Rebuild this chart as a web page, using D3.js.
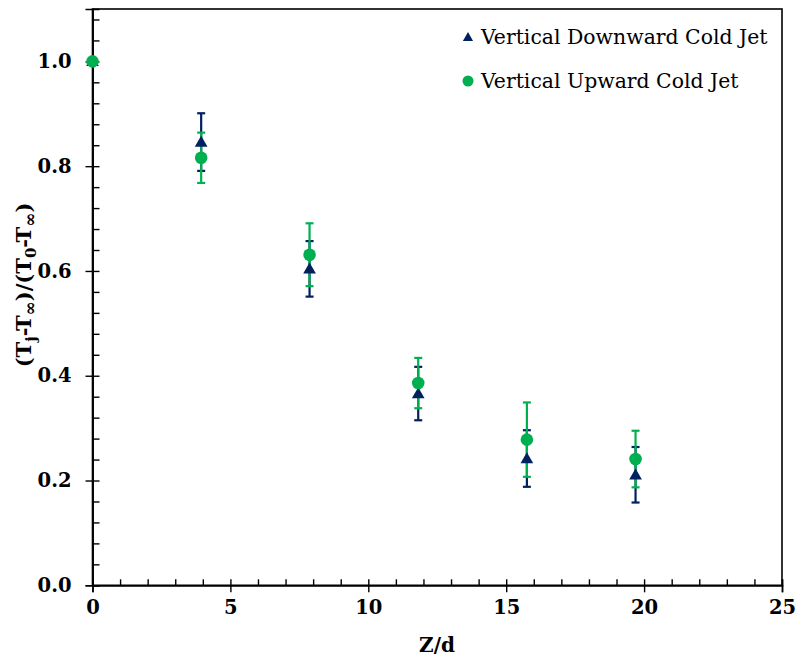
<!DOCTYPE html>
<html>
<head>
<meta charset="utf-8">
<script src="https://cdn.jsdelivr.net/npm/d3@7"></script>
<style>
  body { margin: 0; background: #fff; }
</style>
</head>
<body>
<svg id="chart" width="796" height="660"></svg>
<script>
"use strict"

let zd = [0, 3.94, 7.87, 11.81, 15.75, 19.69]
let downMean = [1.0, 0.846, 0.604, 0.366, 0.242, 0.211]
let downErr = [0, 0.055, 0.053, 0.051, 0.054, 0.053]
let upMean = [1.0, 0.816, 0.631, 0.386, 0.278, 0.241]
let upErr = [0, 0.048, 0.060, 0.048, 0.071, 0.054]

let xMajor = [0, 5, 10, 15, 20, 25]
let xMinor = d3.range(0, 26, 1)
let yMajor = [0, 0.2, 0.4, 0.6, 0.8, 1.0]
let yMinor = d3.range(0, 28).map(function(i) { return i * 0.04 })

let legendNames = ["Vertical Downward Cold Jet", "Vertical Upward Cold Jet"]

let navy = "#002060"
let green = "#00b050"
let serif = "DejaVu Serif"

let plotLeft = 92.5, plotRight = 782, plotTop = 9, plotBottom = 585.3

let svg = d3.select("#chart")

let x = d3.scaleLinear().domain([0, 25]).range([plotLeft, plotRight])
let y = d3.scaleLinear().domain([0, 1.1]).range([plotBottom, plotTop])

// frame
svg.append("rect")
    .attr("x", plotLeft).attr("y", plotTop)
    .attr("width", plotRight - plotLeft).attr("height", plotBottom - plotTop)
    .attr("fill", "none").attr("stroke", "#000").attr("stroke-width", 1.6)

// x axis: labels + outward major ticks, then inward minor ticks
svg.append("g").attr("transform", "translate(0," + plotBottom + ")")
    .call(d3.axisBottom(x).tickValues(xMajor).tickSize(7).tickPadding(8))
svg.append("g").attr("transform", "translate(0," + plotBottom + ")")
    .call(d3.axisTop(x).tickValues(xMinor).tickSize(6).tickFormat(""))

// y axis
svg.append("g").attr("transform", "translate(" + plotLeft + ",0)")
    .call(d3.axisLeft(y).tickValues(yMajor).tickSize(7).tickPadding(14).tickFormat(d3.format(".1f")))
svg.append("g").attr("transform", "translate(" + plotLeft + ",0)")
    .call(d3.axisRight(y).tickValues(yMinor).tickSize(7).tickFormat(""))

svg.selectAll("g").attr("font-family", serif)
svg.selectAll(".domain").attr("stroke", "#000").attr("stroke-width", 1.6)
svg.selectAll(".tick line").attr("stroke", "#000").attr("stroke-width", 1.4)
svg.selectAll(".tick text")
    .attr("font-size", 19.5).attr("font-weight", "bold").attr("fill", "#000")

// axis titles
svg.append("text")
    .attr("x", 437).attr("y", 652)
    .attr("text-anchor", "middle")
    .attr("font-family", serif)
    .attr("font-size", 20).attr("font-weight", "bold")
    .text("Z/d")

let yl = svg.append("text")
    .attr("transform", "translate(31,285) rotate(-90)")
    .attr("text-anchor", "middle")
    .attr("font-family", serif)
    .attr("font-size", 21).attr("font-weight", "bold")
yl.append("tspan").text("(T")
yl.append("tspan").attr("font-size", 15).attr("dy", 5).text("j")
yl.append("tspan").attr("dy", -5).text("-T")
yl.append("tspan").attr("font-size", 17).attr("dy", 5).text("∞")
yl.append("tspan").attr("dy", -5).text(")/(T")
yl.append("tspan").attr("font-size", 15).attr("dy", 5).text("0")
yl.append("tspan").attr("dy", -5).text("-T")
yl.append("tspan").attr("font-size", 17).attr("dy", 5).text("∞")
yl.append("tspan").attr("dy", -5).text(")")

// error bars
function drawErrors(means, errs, color) {
    let g = svg.append("g").attr("stroke", color).attr("stroke-width", 2.2)
    zd.forEach(function(z, i) {
        if (errs[i] === 0) return
        let cx = x(z)
        let y1 = y(means[i] + errs[i]), y2 = y(means[i] - errs[i])
        g.append("line").attr("x1", cx).attr("x2", cx).attr("y1", y1).attr("y2", y2)
        g.append("line").attr("x1", cx - 4).attr("x2", cx + 4).attr("y1", y1).attr("y2", y1)
        g.append("line").attr("x1", cx - 4).attr("x2", cx + 4).attr("y1", y2).attr("y2", y2)
    })
}
drawErrors(downMean, downErr, navy)
drawErrors(upMean, upErr, green)

let tri = d3.symbol().type(d3.symbolTriangle).size(70)

svg.append("g").selectAll("path")
    .data(zd)
    .join("path")
    .attr("d", tri)
    .attr("transform", function(d, i) { return "translate(" + x(d) + "," + (y(downMean[i]) + 1) + ")" })
    .attr("fill", navy)

svg.append("g").selectAll("circle")
    .data(zd)
    .join("circle")
    .attr("cx", function(d) { return x(d) })
    .attr("cy", function(d, i) { return y(upMean[i]) })
    .attr("r", 6.3)
    .attr("fill", green)

// legend
let legend = svg.append("g")
legend.append("path").attr("d", d3.symbol().type(d3.symbolTriangle).size(45))
    .attr("transform", "translate(468,38)").attr("fill", navy)
legend.append("circle").attr("cx", 468).attr("cy", 81).attr("r", 5.5).attr("fill", green)
legendNames.forEach(function(name, i) {
    legend.append("text")
        .attr("x", 481).attr("y", 44 + i * 44)
        .attr("font-family", serif)
        .attr("font-size", 20.4)
        .text(name)
})
</script>
</body>
</html>
